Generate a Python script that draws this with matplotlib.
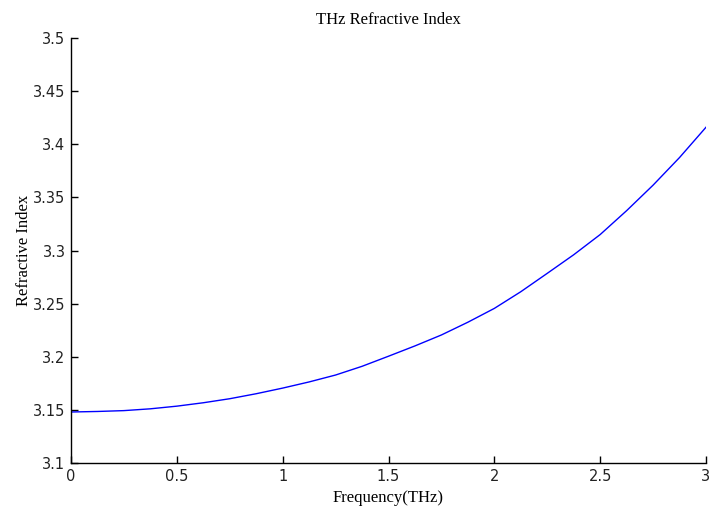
import matplotlib
matplotlib.use("Agg")
import matplotlib.pyplot as plt

freq = [0.0, 0.125, 0.25, 0.375, 0.5, 0.625, 0.75, 0.875, 1.0, 1.125, 1.25, 1.375,
        1.5, 1.625, 1.75, 1.875, 2.0, 2.125, 2.25, 2.375, 2.5, 2.625, 2.75, 2.875, 3.0]
index = [3.148, 3.1485, 3.1493, 3.151, 3.1535, 3.1567, 3.1605, 3.1652, 3.1705, 3.1763, 3.1828, 3.191,
         3.2005, 3.2102, 3.2205, 3.2325, 3.2455, 3.2612, 3.2785, 3.296, 3.315, 3.3375, 3.3615, 3.3875, 3.416]

xticks = [0, 0.5, 1, 1.5, 2, 2.5, 3]
xticklabels = ["0", "0.5", "1", "1.5", "2", "2.5", "3"]
yticks = [3.1, 3.15, 3.2, 3.25, 3.3, 3.35, 3.4, 3.45, 3.5]
yticklabels = ["3.1", "3.15", "3.2", "3.25", "3.3", "3.35", "3.4", "3.45", "3.5"]

fig = plt.figure(figsize=(7.14, 5.16), dpi=100)
ax = fig.add_axes([71/714, 1-463/516, (706-71)/714, (463-38)/516])
ax.plot(freq, index, color="#0000ff", lw=1.0)
ax.set_xlim(0, 3)
ax.set_ylim(3.1, 3.5)
ax.set_xticks(xticks)
ax.set_xticklabels(xticklabels)
ax.set_yticks(yticks)
ax.set_yticklabels(yticklabels)
for s in ["top", "right"]:
    ax.spines[s].set_visible(False)
for s in ["left", "bottom"]:
    ax.spines[s].set_linewidth(1.0)
ax.tick_params(direction="in", length=5, width=1, labelsize=10.5, colors="black", pad=4)
for lbl in ax.get_xticklabels() + ax.get_yticklabels():
    lbl.set_color("#222222")

serif = "Liberation Serif"
ax.set_title("THz Refractive Index", fontfamily=serif, fontsize=12, pad=10)
ax.set_xlabel("Frequency(THz)", fontfamily=serif, fontsize=12, labelpad=5)
ax.set_ylabel("Refractive Index", fontfamily=serif, fontsize=12, labelpad=1)

fig.savefig("out.png", dpi=100)
